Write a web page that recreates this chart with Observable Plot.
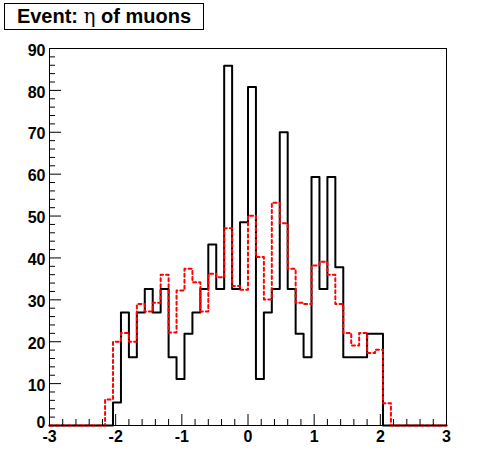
<!DOCTYPE html>
<html>
<head>
<meta charset="utf-8">
<script src="https://cdn.jsdelivr.net/npm/d3@7"></script>
<script src="https://cdn.jsdelivr.net/npm/@observablehq/plot@0.6"></script>
<style>
  body { margin: 0; background: #fff; }
  #wrap { position: relative; width: 496px; height: 472px; background: #fff; }
  #title {
    position: absolute; left: 4px; top: 3px; width: 200px; height: 27px;
    box-sizing: border-box; border: 1px solid #000; background: #fff;
    display: flex; justify-content: center; align-items: baseline;
    font: bold 20px "Liberation Sans", Arial, sans-serif; line-height: 25px;
    color: #000; white-space: pre; z-index: 2;
  }
  #title span { display: inline-block; }
  #title .eta { font-family: "DejaVu Serif", "Liberation Serif", serif; font-weight: normal; }
  #chart { position: absolute; left: 0; top: 0; }
</style>
</head>
<body>
<div id="wrap">
  <div id="title"><span>Event: </span><span class="eta">η</span><span> of muons</span></div>
  <div id="chart"></div>
</div>
<script>
// Histogram binning: 50 bins from -3 to 3
const xMin = -3, xMax = 3, nBins = 50;

// Bin contents (black solid histogram)
const blackValues = [
  0, 0, 0, 0, 0, 0, 0, 0, 5.5, 27.0,
  16.3, 27.0, 32.6, 27.0, 32.6, 16.3, 11.1, 21.9, 27.0, 32.6,
  43.2, 32.6, 85.9, 32.6, 48.5, 80.8, 11.1, 27.0, 32.6, 70.0,
  32.6, 21.9, 16.3, 59.3, 32.6, 59.3, 37.8, 16.3, 16.3, 16.3,
  21.9, 21.9, 0, 0, 0, 0, 0, 0, 0, 0
];

// Bin contents (red dotted histogram)
const redValues = [
  0, 0, 0, 0, 0, 0, 0, 6.2, 20.0, 22.1,
  20.0, 29.0, 27.2, 29.3, 36.0, 22.2, 32.2, 37.4, 34.2, 27.2,
  36.2, 35.4, 47.1, 33.3, 32.4, 50.1, 40.2, 30.1, 53.2, 48.3,
  37.4, 29.3, 29.0, 38.2, 39.1, 36.0, 29.0, 22.1, 19.1, 22.1,
  17.3, 18.1, 5.3, 0, 0, 0, 0, 0, 0, 0
];

// Axis tick labels
const xTickLabels = [-3, -2, -1, 0, 1, 2, 3];
const yTickLabels = [10, 20, 30, 40, 50, 60, 70, 80, 90];
const yZeroLabel = [0];

const binWidth = (xMax - xMin) / nBins;
function steps(values) {
  const pts = values.map((v, i) => ({x: xMin + i * binWidth, y: v}));
  pts.push({x: xMax, y: values[values.length - 1]});
  return pts;
}

const xMinor = d3.range(-30, 31, 2).map(d => d / 10).filter(d => Math.abs(d - Math.round(d)) > 1e-9);
const yMajor = d3.range(0, 91, 10);
const yMinor = d3.range(0, 91, 2).filter(d => d % 10 !== 0);

const W = 496, H = 472, mL = 49, mR = 50, mT = 48, mB = 47;
const fw = W - mL - mR, fh = H - mT - mB;

const chart = Plot.plot({
  width: W, height: H,
  marginLeft: mL, marginRight: mR, marginTop: mT, marginBottom: mB,
  style: {background: "white", color: "black", fontFamily: "'Liberation Sans', Arial, sans-serif", fontSize: "16px", fontWeight: "bold"},
  x: {domain: [xMin, xMax], label: null},
  y: {domain: [0, 90], label: null},
  marks: [
    Plot.line(steps(blackValues), {x: "x", y: "y", curve: "step-after", stroke: "black", strokeWidth: 2}),
    Plot.line(steps(redValues), {x: "x", y: "y", curve: "step-after", stroke: "#ff0000", strokeWidth: 2, strokeDasharray: "3,3"}),
    Plot.frame({stroke: "black", strokeWidth: 1}),
    Plot.tickY(yMajor, {y: d => d, insetRight: fw - 12, stroke: "black"}),
    Plot.tickY(yMinor, {y: d => d, insetRight: fw - 6, stroke: "black"}),
    Plot.tickX(xTickLabels, {x: d => d, insetTop: fh - 11, stroke: "black"}),
    Plot.tickX(xMinor, {x: d => d, insetTop: fh - 6, stroke: "black"}),
    Plot.axisY(yTickLabels, {tickSize: 0, tickPadding: 4, dy: 2, label: null, tickFormat: d => String(d)}),
    Plot.axisY(yZeroLabel, {tickSize: 0, tickPadding: 4, dy: -3, label: null, tickFormat: d => String(d)}),
    Plot.axisX(xTickLabels, {tickSize: 0, tickPadding: 5, label: null, tickFormat: d => String(d)})
  ]
});
document.getElementById("chart").appendChild(chart);
</script>
</body>
</html>
